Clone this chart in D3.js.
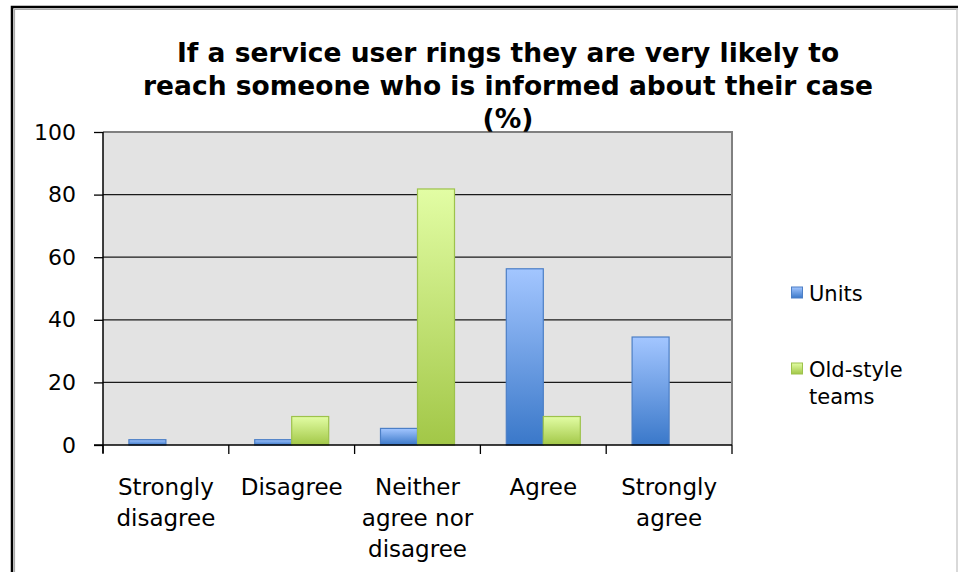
<!DOCTYPE html>
<html>
<head>
<meta charset="utf-8">
<script src="https://cdn.jsdelivr.net/npm/d3@7"></script>
<style>
  html, body { margin: 0; padding: 0; background: #fff; }
  svg { display: block; font-family: "DejaVu Sans", Verdana, sans-serif; }
</style>
</head>
<body>
<svg id="chart" width="958" height="572"></svg>
<script>
// Survey responses, percent of respondents per answer
const categories = [
  ["Strongly", "disagree"],
  ["Disagree"],
  ["Neither", "agree nor", "disagree"],
  ["Agree"],
  ["Strongly", "agree"]
];
const seriesNames = ["Units", "Old-style teams"];
const unitsValues = [1.7, 1.7, 5.3, 56.3, 34.5];
const oldStyleValues = [0, 9.1, 81.8, 9.1, 0];
const yTicks = [0, 20, 40, 60, 80, 100];
const titleLines = [
  "If a service user rings they are very likely to",
  "reach someone who is informed about their case",
  "(%)"
];

const svg = d3.select("#chart");
const W = 958, H = 572;
const plot = { left: 103, right: 732, top: 132, bottom: 445 };

// outer frame (open at the bottom)
svg.append("path")
  .attr("d", `M${12},${H} V${7} H${W}`)
  .attr("fill", "none").attr("stroke", "#000").attr("stroke-width", 2.5);
svg.append("path")
  .attr("d", `M${14.5},${H} V${9.5} H${W}`)
  .attr("fill", "none").attr("stroke", "#aaa").attr("stroke-width", 1.2);
svg.append("line")
  .attr("x1", W - 1).attr("x2", W - 1).attr("y1", 9).attr("y2", H)
  .attr("stroke", "#ccc").attr("stroke-width", 1.5);

const keys = d3.range(categories.length);
const x = d3.scaleBand().domain(keys).range([plot.left, plot.right]);
const y = d3.scaleLinear().domain([0, 100]).range([plot.bottom, plot.top]);
const x1 = d3.scaleBand().domain([0, 1]).range([0, x.bandwidth()]).paddingOuter(0.7).paddingInner(0);

// gradients
const defs = svg.append("defs");
const grads = [
  { id: "gBlue", top: "#a3c6ff", bottom: "#3a78c9" },
  { id: "gGreen", top: "#e2fda4", bottom: "#a2c747" }
];
grads.forEach(g => {
  const lg = defs.append("linearGradient").attr("id", g.id)
    .attr("x1", 0).attr("y1", 0).attr("x2", 0).attr("y2", 1);
  lg.append("stop").attr("offset", "0%").attr("stop-color", g.top);
  lg.append("stop").attr("offset", "100%").attr("stop-color", g.bottom);
});

// plot background
svg.append("rect")
  .attr("x", plot.left).attr("y", plot.top)
  .attr("width", plot.right - plot.left).attr("height", plot.bottom - plot.top)
  .attr("fill", "#e3e3e3");

// gridlines
svg.append("g").selectAll("line")
  .data(yTicks.filter(t => t > 0 && t < 100))
  .join("line")
  .attr("x1", plot.left).attr("x2", plot.right)
  .attr("y1", d => y(d)).attr("y2", d => y(d))
  .attr("stroke", "#1a1a1a").attr("stroke-width", 1.3);

// plot frame top / right
svg.append("path")
  .attr("d", `M${plot.left},${plot.top} H${plot.right} V${plot.bottom}`)
  .attr("fill", "none").attr("stroke", "#808080").attr("stroke-width", 2);

// bars
const seriesData = [unitsValues, oldStyleValues];
const fills = ["url(#gBlue)", "url(#gGreen)"];
const strokes = ["#4c7fc6", "#9dc24c"];
seriesData.forEach((vals, si) => {
  svg.append("g").selectAll("rect")
    .data(vals.map((v, i) => ({ v, i })).filter(d => d.v > 0))
    .join("rect")
    .attr("x", d => x(d.i) + x1(si))
    .attr("width", x1.bandwidth())
    .attr("y", d => y(d.v))
    .attr("height", d => y(0) - y(d.v))
    .attr("fill", fills[si])
    .attr("stroke", strokes[si])
    .attr("stroke-width", 1.2);
});

// y axis
const yAxis = svg.append("g")
  .attr("transform", `translate(${plot.left},0)`)
  .call(d3.axisLeft(y).tickValues(yTicks).tickSize(9).tickPadding(18));
yAxis.select(".domain").attr("stroke", "#000").attr("stroke-width", 1.5)
  .attr("d", `M0,${plot.top}V${plot.bottom + 8}`);
yAxis.selectAll(".tick line").attr("stroke", "#000").attr("stroke-width", 1.3);
yAxis.selectAll(".tick text")
  .attr("font-size", 22).attr("fill", "#000")
  .attr("font-family", "DejaVu Sans, Verdana, sans-serif");

// x axis
const xAxisG = svg.append("g");
xAxisG.append("line")
  .attr("x1", plot.left - 9).attr("x2", plot.right)
  .attr("y1", plot.bottom).attr("y2", plot.bottom)
  .attr("stroke", "#000").attr("stroke-width", 1.5);
xAxisG.selectAll("line.tk")
  .data(d3.range(categories.length + 1))
  .join("line").attr("class", "tk")
  .attr("x1", i => plot.left + i * x.step()).attr("x2", i => plot.left + i * x.step())
  .attr("y1", plot.bottom).attr("y2", plot.bottom + 9)
  .attr("stroke", "#000").attr("stroke-width", 1.3);

// category labels
const catG = svg.append("g");
categories.forEach((lines, i) => {
  const t = catG.append("text")
    .attr("x", x(i) + x.bandwidth() / 2)
    .attr("y", 495)
    .attr("text-anchor", "middle")
    .attr("font-size", 23).attr("fill", "#000");
  lines.forEach((ln, j) => {
    t.append("tspan").attr("x", x(i) + x.bandwidth() / 2)
      .attr("dy", j === 0 ? 0 : 31).text(ln);
  });
});

// title
const title = svg.append("text")
  .attr("x", 508).attr("y", 62)
  .attr("text-anchor", "middle")
  .attr("font-size", 26.5).attr("font-weight", "bold").attr("fill", "#000");
titleLines.forEach((ln, j) => {
  title.append("tspan").attr("x", 508).attr("dy", j === 0 ? 0 : 33).text(ln);
});

// legend
const legend = svg.append("g");
const legendItems = [
  { sw: 287, lines: ["Units"], fill: fills[0], stroke: strokes[0] },
  { sw: 363, lines: ["Old-style", "teams"], fill: fills[1], stroke: strokes[1] }
];
legendItems.forEach(it => {
  legend.append("rect")
    .attr("x", 791.5).attr("y", it.sw).attr("width", 11).attr("height", 11)
    .attr("fill", it.fill).attr("stroke", it.stroke).attr("stroke-width", 1);
  const t = legend.append("text")
    .attr("x", 809).attr("y", it.sw + 13.5)
    .attr("font-size", 21).attr("fill", "#000");
  it.lines.forEach((ln, j) => {
    t.append("tspan").attr("x", 809).attr("dy", j === 0 ? 0 : 27).text(ln);
  });
});
</script>
</body>
</html>
